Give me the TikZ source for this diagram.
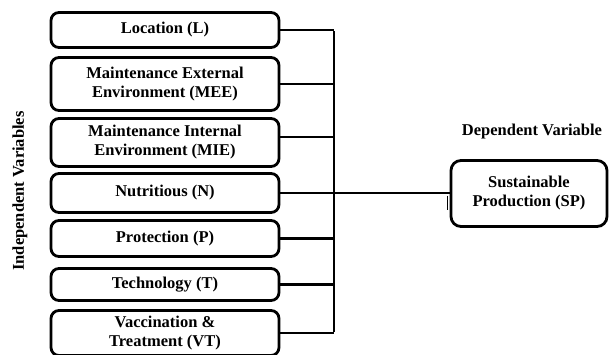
\documentclass[tikz,border=0pt]{standalone}
\usepackage{fontspec}
\setmainfont{Liberation Serif}
\begin{document}
\begin{tikzpicture}[x=1pt,y=-1pt,
  vbox/.style={draw, line width=2.8pt, rounded corners=8pt, minimum width=228pt, align=center, inner sep=0pt, font=\bfseries\fontsize{16.5}{19}\selectfont},
  conn/.style={line width=2.5pt},
  lbl/.style={font=\bfseries\fontsize{16.5}{19}\selectfont, inner sep=0pt}]
\useasboundingbox (0,0) rectangle (615,354);
\node[vbox, minimum height=35pt] (L) at (165,30) {Location (L)};
\node[vbox, minimum height=53pt] (MEE) at (165,84) {Maintenance External\\Environment (MEE)};
\node[vbox, minimum height=48pt] (MIE) at (165,142.5) {Maintenance Internal\\Environment (MIE)};
\node[vbox, minimum height=39pt] (N) at (165,193) {Nutritious (N)};
\node[vbox, minimum height=36pt] (P) at (165,238.5) {Protection (P)};
\node[vbox, minimum height=32pt] (T) at (165,284.5) {Technology (T)};
\node[vbox, minimum height=45pt] (VT) at (165,333) {Vaccination \&\\Treatment (VT)};
\node[vbox, minimum width=156pt, minimum height=66pt, rounded corners=10pt] (SP) at (529,193.5) {Sustainable\\Production (SP)};
\node[lbl] (dv) at (532,132) {Dependent Variable};
\node[lbl, rotate=90] (iv) at (20,191) {Independent Variables};
\coordinate (bt) at (334,30);
\coordinate (bb) at (334,333);
\draw[conn] ([yshift=-1.25pt]bt) -- ([yshift=1.25pt]bb);
\draw[conn] (L.east) -- (L.east -| bt);
\draw[conn] (MEE.east) -- (MEE.east -| bt);
\draw[conn] ([yshift=5.5pt]MIE.east) -- ([yshift=5.5pt]MIE.east -| bt);
\draw[conn] (N.east) -- (N.east -| SP.west);
\draw[conn] (P.east) -- (P.east -| bt);
\draw[conn] (T.east) -- (T.east -| bt);
\draw[conn] (VT.east) -- (VT.east -| bt);
\draw[line width=1.2pt] ([xshift=-2pt,yshift=-2pt]SP.west) -- ([xshift=-2pt,yshift=-16pt]SP.west);
\end{tikzpicture}
\end{document}
